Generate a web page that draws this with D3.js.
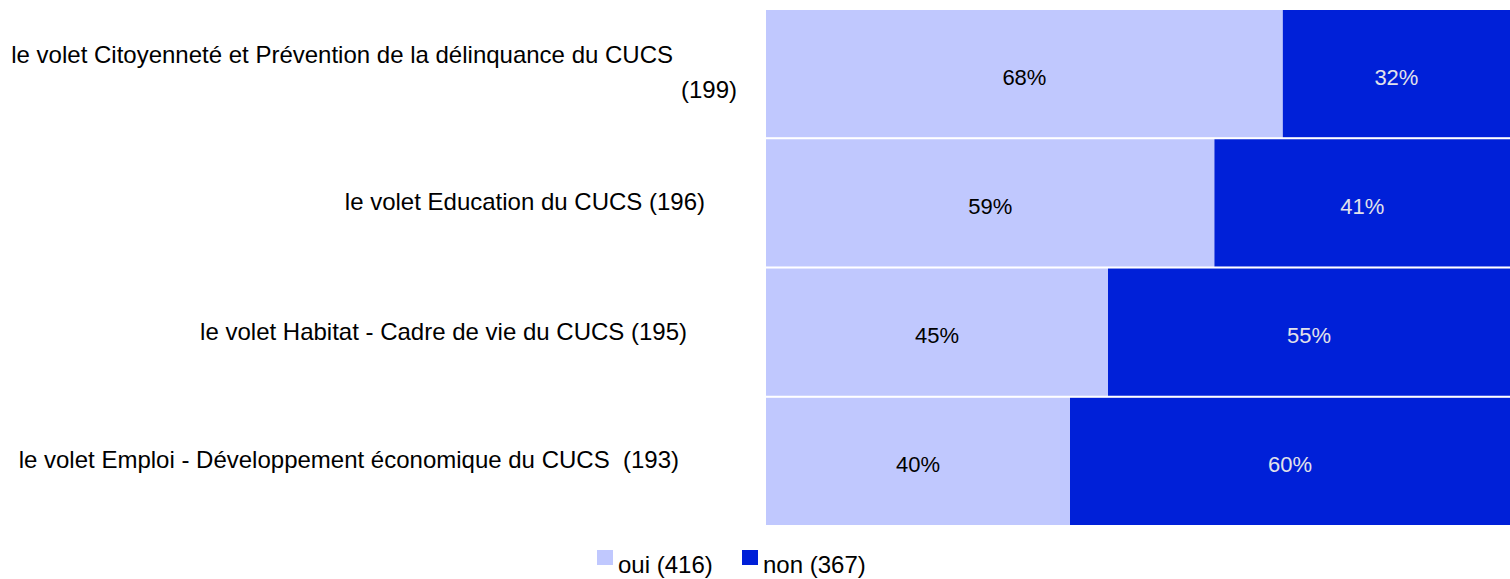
<!DOCTYPE html>
<html>
<head>
<meta charset="utf-8">
<script src="https://cdn.jsdelivr.net/npm/d3@7"></script>
<style>
  html, body { margin: 0; padding: 0; background: #fff; }
  svg { display: block; font-family: "Liberation Sans", Arial, sans-serif; }
  text { white-space: pre; }
</style>
</head>
<body>
<svg id="chart" width="1510" height="579"></svg>
<script>
// Survey rows (label lines, respondent count) and the oui / non split in percent
const categories = [
  ["le volet Citoyenneté et Prévention de la délinquance du CUCS", "(199)"],
  ["le volet Education du CUCS (196)"],
  ["le volet Habitat - Cadre de vie du CUCS (195)"],
  ["le volet Emploi - Développement économique du CUCS  (193)"]
];
const ouiValues = [68, 59, 45, 40];
const nonValues = [32, 41, 55, 60];
const seriesNames = ["oui (416)", "non (367)"];
const seriesColors = ["#c0c8fe", "#0020d8"];
const labelColors = ["#000000", "#e2e2ea"];

const W = 1510, H = 579;
const svg = d3.select("#chart");

const plotLeft = 766, plotRight = 1526;   // bars run past the right edge and get clipped
const x = d3.scaleLinear().domain([0, 100]).range([plotLeft, plotRight]);
const y = d3.scaleBand().domain(d3.range(categories.length)).range([10, 525]).paddingInner(0.016);

svg.append("clipPath").attr("id", "clip")
  .append("rect").attr("x", 0).attr("y", 0).attr("width", W).attr("height", H);

const stacked = [];
categories.forEach((c, i) => {
  let acc = 0;
  [ouiValues[i], nonValues[i]].forEach((v, s) => {
    stacked.push({ row: i, s, v, x0: acc, x1: acc + v });
    acc += v;
  });
});

const g = svg.append("g").attr("clip-path", "url(#clip)");
g.selectAll("rect.seg").data(stacked).join("rect")
  .attr("class", "seg")
  .attr("x", d => x(d.x0))
  .attr("width", d => x(d.x1) - x(d.x0))
  .attr("y", d => y(d.row))
  .attr("height", y.bandwidth())
  .attr("fill", d => seriesColors[d.s]);

// value labels centred on the visible part of each segment
g.selectAll("text.val").data(stacked).join("text")
  .attr("class", "val")
  .attr("x", d => (x(d.x0) + Math.min(x(d.x1), W)) / 2)
  .attr("y", d => y(d.row) + y.bandwidth() / 2 + 11)
  .attr("text-anchor", "middle")
  .attr("font-size", 22)
  .attr("fill", d => labelColors[d.s])
  .text(d => d.v + "%");

// category labels, right aligned to the left of the bars
const labelEnds = [[673, 737], [705], [687], [679]];
const labelBase = [[-10.5, 24.5], [7.5], [8], [7]];
categories.forEach((lines, i) => {
  lines.forEach((t, k) => {
    svg.append("text")
      .attr("x", labelEnds[i][k])
      .attr("y", y(i) + y.bandwidth() / 2 + labelBase[i][k])
      .attr("text-anchor", "end")
      .attr("font-size", 24)
      .attr("fill", "#000")
      .text(t);
  });
});

// legend
const legendX = [597, 742];
const lg = svg.append("g");
seriesNames.forEach((name, s) => {
  lg.append("rect")
    .attr("x", legendX[s]).attr("y", 550)
    .attr("width", 16).attr("height", 15)
    .attr("fill", seriesColors[s]);
  lg.append("text")
    .attr("x", legendX[s] + 21).attr("y", 573)
    .attr("font-size", 24)
    .attr("fill", "#000")
    .text(name);
});
</script>
</body>
</html>
